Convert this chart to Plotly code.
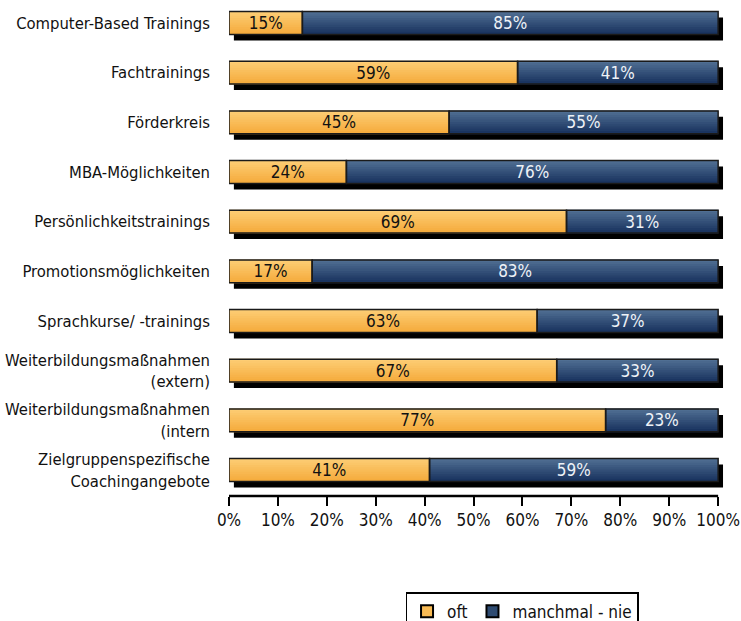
import plotly.graph_objects as go

categories = [
    "Computer-Based Trainings",
    "Fachtrainings",
    "Förderkreis",
    "MBA-Möglichkeiten",
    "Persönlichkeitstrainings",
    "Promotionsmöglichkeiten",
    "Sprachkurse/ -trainings",
    "Weiterbildungsmaßnahmen<br>(extern)",
    "Weiterbildungsmaßnahmen<br>(intern",
    "Zielgruppenspezifische<br>Coachingangebote",
]
oft = [15, 59, 45, 24, 69, 17, 63, 67, 77, 41]
manchmal_nie = [85, 41, 55, 76, 31, 83, 37, 33, 23, 59]
x_tick_vals = [0, 10, 20, 30, 40, 50, 60, 70, 80, 90, 100]
x_tick_text = [f"{v}%" for v in x_tick_vals]

FONT = "Liberation Sans Narrow, DejaVu Sans Condensed, Arial Narrow, sans-serif"
ORANGE_TOP, ORANGE_BOT, ORANGE_MID = (253, 205, 116), (245, 172, 62), "#F8BB55"
BLUE_TOP, BLUE_BOT, BLUE_MID = (80, 111, 147), (26, 52, 96), "#2E4B71"
BAR_W = 0.46
SH_DX = 1.0   # shadow offset in x (data units)
SH_DY = 0.12  # shadow offset in y (category units)
N_STRIPS = 10

idx = list(range(len(categories)))
totals = [o + m for o, m in zip(oft, manchmal_nie)]


def mix(c1, c2, t):
    return "rgb({},{},{})".format(*[round(a + (b - a) * t) for a, b in zip(c1, c2)])


fig = go.Figure()

# drop shadows
fig.add_trace(go.Bar(
    y=[i + SH_DY for i in idx], x=totals, base=[SH_DX] * len(idx),
    orientation="h", width=BAR_W,
    marker=dict(color="black", line=dict(width=0)),
    showlegend=False, hoverinfo="skip",
))

# gradient fill strips
strip_w = BAR_W / N_STRIPS
for values, bases, ctop, cbot in [
    (oft, [0] * len(idx), ORANGE_TOP, ORANGE_BOT),
    (manchmal_nie, oft, BLUE_TOP, BLUE_BOT),
]:
    for k in range(N_STRIPS):
        t = k / (N_STRIPS - 1)
        fig.add_trace(go.Bar(
            y=[i - BAR_W / 2 + (k + 0.5) * strip_w for i in idx],
            x=values, base=bases, orientation="h",
            width=strip_w * 1.4,
            marker=dict(color=mix(ctop, cbot, t), line=dict(width=0)),
            showlegend=False, hoverinfo="skip",
        ))

# outlines + labels
fig.add_trace(go.Bar(
    y=idx, x=oft, base=[0] * len(idx), orientation="h", width=BAR_W,
    marker=dict(color="rgba(0,0,0,0)", line=dict(color="#1a1a1a", width=1.5)),
    text=[f"{v}%" for v in oft], textposition="inside",
    insidetextanchor="middle", textangle=0, constraintext="none",
    textfont=dict(family=FONT, size=17, color="#111111"),
    showlegend=False, hoverinfo="skip",
))
fig.add_trace(go.Bar(
    y=idx, x=manchmal_nie, base=oft, orientation="h", width=BAR_W,
    marker=dict(color="rgba(0,0,0,0)", line=dict(color="#1a1a1a", width=1.5)),
    text=[f"{v}%" for v in manchmal_nie], textposition="inside",
    insidetextanchor="middle", textangle=0, constraintext="none",
    textfont=dict(family=FONT, size=17, color="#EEF2F7"),
    showlegend=False, hoverinfo="skip",
))

# legend entries
fig.add_trace(go.Bar(name="oft", x=[None], y=[None], orientation="h",
                     marker=dict(color=ORANGE_MID, line=dict(color="black", width=2))))
fig.add_trace(go.Bar(name="manchmal - nie", x=[None], y=[None], orientation="h",
                     marker=dict(color=BLUE_MID, line=dict(color="black", width=2))))

fig.update_layout(
    width=741,
    height=621,
    barmode="overlay",
    plot_bgcolor="white",
    paper_bgcolor="white",
    margin=dict(l=229, r=17, t=0, b=125, autoexpand=False),
    font=dict(family=FONT, size=16, color="#111111"),
    xaxis=dict(
        range=[0, 101.2],
        tickvals=x_tick_vals,
        ticktext=x_tick_text,
        ticks="outside",
        ticklen=9,
        tickwidth=2,
        tickcolor="black",
        showgrid=False,
        zeroline=False,
        showline=False,
        automargin=False,
        fixedrange=True,
        tickfont=dict(family=FONT, size=17, color="#111111"),
    ),
    yaxis=dict(
        range=[9.523, -0.463],
        tickvals=idx,
        ticktext=categories,
        showgrid=False,
        zeroline=False,
        showline=False,
        ticks="",
        automargin=False,
        fixedrange=True,
        ticklabelstandoff=18,
        tickfont=dict(family=FONT, size=16.5, color="#111111"),
    ),
    legend=dict(
        orientation="h",
        x=0.592,
        xanchor="center",
        y=-0.194,
        yanchor="top",
        bordercolor="black",
        borderwidth=1.5,
        font=dict(family=FONT, size=17, color="#111111"),
        traceorder="normal",
    ),
    shapes=[dict(
        type="line", xref="x", yref="paper",
        x0=0, x1=100, y0=0, y1=0,
        line=dict(color="black", width=2.5),
    )],
)

fig.write_html(
    "out.html",
    config={"displayModeBar": False},
    post_script="document.body.style.margin='0';document.body.style.overflow='hidden';",
)
